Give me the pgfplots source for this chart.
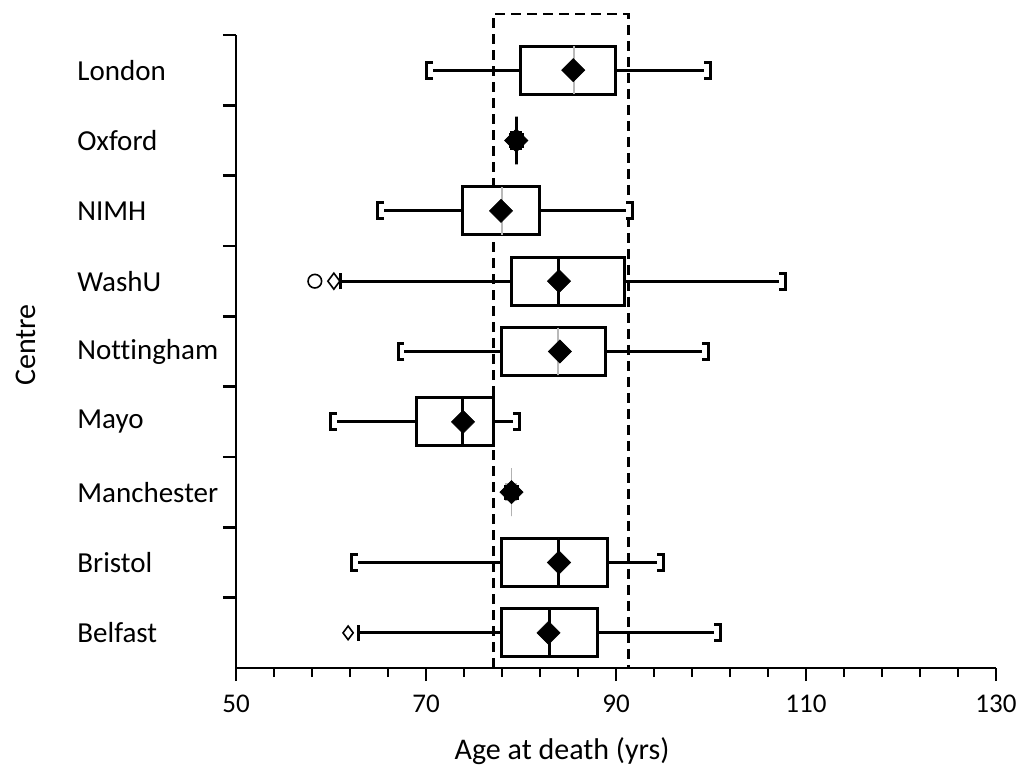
\documentclass[border=0pt]{standalone}
\usepackage{fontspec}
\setmainfont{Carlito}[Ligatures={NoCommon}]
\usepackage{pgfplots}
\pgfplotsset{compat=1.18}
\usepgfplotslibrary{statistics}

% serif length of the bracket-shaped whisker caps
\pgfkeys{/my/lserif/.initial=3pt, /my/userif/.initial=3pt}

\pgfplotsset{
  /pgfplots/boxplot/draw/lower whisker/.code={%
    \draw[/pgfplots/boxplot/every whisker/.try]
      (boxplot box cs:\pgfplotsboxplotvalue{lower whisker},0.5) --
      (boxplot box cs:\pgfplotsboxplotvalue{lower quartile},0.5);
    \draw[/pgfplots/boxplot/every whisker/.try]
      ([xshift=\pgfkeysvalueof{/my/lserif}]boxplot whisker cs:\pgfplotsboxplotvalue{lower whisker},0) --
      (boxplot whisker cs:\pgfplotsboxplotvalue{lower whisker},0) --
      (boxplot whisker cs:\pgfplotsboxplotvalue{lower whisker},1) --
      ([xshift=\pgfkeysvalueof{/my/lserif}]boxplot whisker cs:\pgfplotsboxplotvalue{lower whisker},1);
  },
  /pgfplots/boxplot/draw/upper whisker/.code={%
    \draw[/pgfplots/boxplot/every whisker/.try]
      (boxplot box cs:\pgfplotsboxplotvalue{upper quartile},0.5) --
      (boxplot box cs:\pgfplotsboxplotvalue{upper whisker},0.5);
    \draw[/pgfplots/boxplot/every whisker/.try]
      ([xshift=-\pgfkeysvalueof{/my/userif}]boxplot whisker cs:\pgfplotsboxplotvalue{upper whisker},0) --
      (boxplot whisker cs:\pgfplotsboxplotvalue{upper whisker},0) --
      (boxplot whisker cs:\pgfplotsboxplotvalue{upper whisker},1) --
      ([xshift=-\pgfkeysvalueof{/my/userif}]boxplot whisker cs:\pgfplotsboxplotvalue{upper whisker},1);
  },
  bx/.style={black, line width=1.5pt, fill=white},
  greymed/.style={boxplot/every median/.style={draw=gray!55, line width=0.7pt}},
}

\begin{document}
\begin{tikzpicture}
\path[use as bounding box] (-118pt,-49pt) rectangle (392.5pt,334pt);
\begin{axis}[
  at={(0,0)}, anchor=south west,
  scale only axis, width=380pt, height=316.5pt,
  clip=false,
  xmin=50, xmax=130, ymin=0.5, ymax=9.5,
  axis x line*=bottom, axis y line*=left,
  axis line style={line width=1.3pt, black},
  tick style={line width=1.2pt, black},
  tick align=outside,
  major tick length=6.5pt, minor tick length=4.5pt,
  xtick={50,70,...,130}, minor x tick num=4,
  ytick={1.5,2.5,...,9.5}, yticklabels={},
  extra y ticks={1,2,3,4,5,6,7,8,9},
  extra y tick labels={Belfast,Bristol,Manchester,Mayo,Nottingham,WashU,NIMH,Oxford,London},
  extra y tick style={major tick length=0pt,
    yticklabel style={anchor=west, inner sep=0pt, xshift=-79.5pt, font=\fontsize{14.5}{16}\selectfont}},
  /pgf/number format/assume math mode=true,
  xticklabel style={font=\fontsize{13.5}{15}\selectfont, yshift=-3.5pt},
  xlabel={Age at death (yrs)},
  xlabel style={at={(axis description cs:0.429,-0.131)}, anchor=center, font=\fontsize{15}{17}\selectfont},
  ylabel={Centre},
  ylabel style={at={(axis description cs:-0.276,0.51)}, anchor=center, font=\fontsize{15}{17}\selectfont},
  boxplot/box extend=0.68,
  boxplot/whisker extend=0.23,
]
% dashed reference band
\addplot[black, line width=1.3pt, dash pattern=on 5pt off 3pt] coordinates {
  (77.1,0.5) (77.1,9.8) (91.3,9.8) (91.3,0.5)};

% London
\addplot[bx, greymed, /my/lserif=3pt, /my/userif=3pt, boxplot prepared={draw position=9,
  lower whisker=70.1, lower quartile=79.9, median=85.6, upper quartile=90.0, upper whisker=99.9}]
  coordinates {};
% Oxford
\addplot[bx, /my/lserif=3pt, /my/userif=3pt, boxplot prepared={draw position=8,
  lower whisker=79.5, lower quartile=79.5, median=79.5, upper quartile=79.5, upper whisker=79.5}]
  coordinates {};
% NIMH
\addplot[bx, greymed, /my/lserif=3pt, /my/userif=3pt, boxplot prepared={draw position=7,
  lower whisker=64.9, lower quartile=73.8, median=78.0, upper quartile=81.9, upper whisker=91.7}]
  coordinates {};
% WashU
\addplot[bx, /my/lserif=0pt, /my/userif=3pt, boxplot prepared={draw position=6,
  lower whisker=61.0, lower quartile=79.0, median=83.9, upper quartile=90.9, upper whisker=107.8}]
  coordinates {};
% Nottingham
\addplot[bx, greymed, /my/lserif=3pt, /my/userif=3pt, boxplot prepared={draw position=5,
  lower whisker=67.1, lower quartile=78.0, median=83.9, upper quartile=88.9, upper whisker=99.7}]
  coordinates {};
% Mayo
\addplot[bx, /my/lserif=3pt, /my/userif=3pt, boxplot prepared={draw position=4,
  lower whisker=60.0, lower quartile=69.0, median=73.8, upper quartile=77.1, upper whisker=79.8}]
  coordinates {};
% Manchester
\addplot[gray!60, line width=0.8pt, /my/lserif=3pt, /my/userif=3pt, boxplot prepared={draw position=3,
  lower whisker=79.0, lower quartile=79.0, median=79.0, upper quartile=79.0, upper whisker=79.0}]
  coordinates {};
% Bristol
\addplot[bx, /my/lserif=3pt, /my/userif=3pt, boxplot prepared={draw position=2,
  lower whisker=62.2, lower quartile=77.9, median=83.9, upper quartile=89.1, upper whisker=95.0}]
  coordinates {};
% Belfast
\addplot[bx, /my/lserif=0pt, /my/userif=3pt, boxplot prepared={draw position=1,
  lower whisker=62.9, lower quartile=78.0, median=83.0, upper quartile=88.1, upper whisker=101.0}]
  coordinates {};

% means
\addplot[only marks, mark=square*, mark size=4.1pt, mark options={rotate=45, fill=black, draw=black, line width=0.3pt}]
  coordinates {(85.5,9) (79.5,8) (77.9,7) (84.0,6) (84.1,5) (73.9,4) (79.0,3) (84.0,2) (82.9,1)};
\addplot[only marks, mark=square*, mark size=3.6pt, mark options={fill=black, draw=black, line width=0.3pt}]
  coordinates {(79.5,8) (79.0,3)};

% grey medians over the mean markers
\addplot[gray!55, line width=0.7pt] coordinates {(85.6,8.66) (85.6,9.34)};
\addplot[gray!55, line width=0.7pt] coordinates {(78.0,6.66) (78.0,7.34)};
\addplot[gray!55, line width=0.7pt] coordinates {(83.9,4.66) (83.9,5.34)};

% outliers
\addplot[only marks, mark=o, mark size=3.4pt, mark options={line width=0.8pt, black}] coordinates {(58.3,6)};
\addplot[only marks, mark=diamond, mark size=4pt, mark options={line width=0.8pt, black}] coordinates {(60.3,6)};
\addplot[only marks, mark=diamond, mark size=3.4pt, mark options={line width=0.8pt, black}] coordinates {(61.8,1)};
\end{axis}
\end{tikzpicture}
\end{document}
